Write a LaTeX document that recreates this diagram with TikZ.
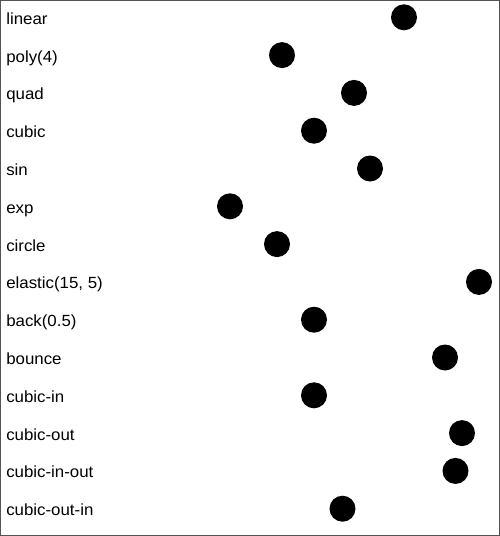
\documentclass[tikz,border=0pt]{standalone}
\usepackage{fontspec}
\setmainfont{Liberation Sans}[FakeStretch=1.045]

\begin{document}
\begin{tikzpicture}[x=0.75pt,y=-0.75pt,
  dot/.style={circle,fill=black,inner sep=0pt,minimum size=19.5pt},
  easename/.style={anchor=base west,inner sep=0pt,font=\fontsize{12.1}{14}\selectfont}]
\useasboundingbox (0,0) rectangle (500,536);
\draw[line width=1.1pt, black!67] (0.75,0.75) rectangle (499.25,535.25);

\foreach \ease\x\i in
 { linear/404/0,
poly(4)/282/1,
quad/354/2,
cubic/314/3,
sin/370/4,
exp/230/5,
circle/277/6,
{elastic(15, 5)}/479/7,
back(0.5)/314/8,
bounce/445/9,
cubic-in/314/10,
cubic-out/462/11,
cubic-in-out/455.5/12,
cubic-out-in/342.5/13 }{
\node[easename] (name\i) at (6,17.3+37.8*\i+7) {\ease};
\node[dot] (dot\i) at (\x,17.3+37.8*\i) {};
}
\end{tikzpicture}
\end{document}
